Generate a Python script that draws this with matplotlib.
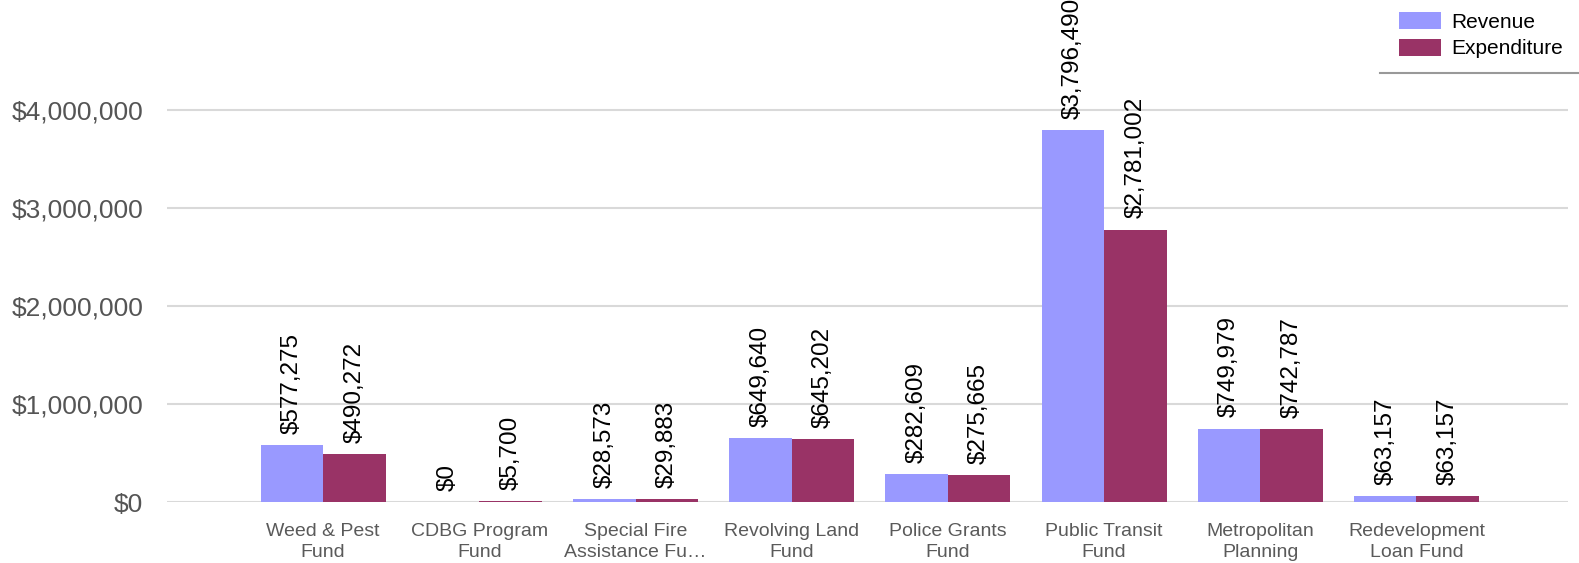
import matplotlib.pyplot as plt
import numpy as np
from matplotlib.lines import Line2D

plt.rcParams['font.family'] = ['Liberation Sans', 'DejaVu Sans']

categories = ["Weed & Pest\nFund", "CDBG Program\nFund", "Special Fire\nAssistance Fu\u2026",
              "Revolving Land\nFund", "Police Grants\nFund", "Public Transit\nFund",
              "Metropolitan\nPlanning", "Redevelopment\nLoan Fund"]
revenue = [577275, 0, 28573, 649640, 282609, 3796490, 749979, 63157]
expenditure = [490272, 5700, 29883, 645202, 275665, 2781002, 742787, 63157]

rev_color = "#9999ff"
exp_color = "#993366"

fig = plt.figure(figsize=(15.79, 5.63), dpi=100)
ax = fig.add_axes([167 / 1579, 61 / 563, 1401 / 1579, 480 / 563])

x = np.arange(len(categories))
w = 0.4
b1 = ax.bar(x - w / 2, revenue, w, color=rev_color, label="Revenue", zorder=3)
b2 = ax.bar(x + w / 2, expenditure, w, color=exp_color, label="Expenditure", zorder=3)

# подписи значений над столбцами
for bars, vals in ((b1, revenue), (b2, expenditure)):
    for rect, v in zip(bars, vals):
        ax.annotate(f"${v:,.0f}", (rect.get_x() + rect.get_width() / 2, v),
                    xytext=(0, 8), textcoords="offset points", rotation=90,
                    ha="center", va="bottom", fontsize=17.5, color="black",
                    annotation_clip=False, zorder=4)

ax.set_xlim(-1, 7.97)
ax.set_ylim(0, 4.9e6)
ax.set_yticks([0, 1e6, 2e6, 3e6, 4e6])
ax.set_yticklabels([f"${int(t):,}" for t in ax.get_yticks()])
ax.tick_params(axis="y", length=0, pad=17, labelsize=19, labelcolor="#555555")
ax.set_xticks(x)
ax.set_xticklabels(categories, fontsize=14, color="#5a5a5a", linespacing=1.3)
ax.tick_params(axis="x", length=0, pad=15)

ax.grid(axis="y", color="#d9d9d9", linewidth=1.5, zorder=0)
for s in ax.spines.values():
    s.set_visible(False)

fig.legend(loc="upper left", bbox_to_anchor=(1399 / 1579, 1 - 12 / 563), frameon=False,
           fontsize=15, handlelength=2.0, handleheight=0.9, handletextpad=0.5,
           labelspacing=0.32, borderpad=0, borderaxespad=0)
fig.add_artist(Line2D([1380 / 1579, 1], [1 - 73 / 563, 1 - 73 / 563],
                      transform=fig.transFigure, color="#999999", linewidth=1.5))

fig.savefig("out.png", dpi=100)
